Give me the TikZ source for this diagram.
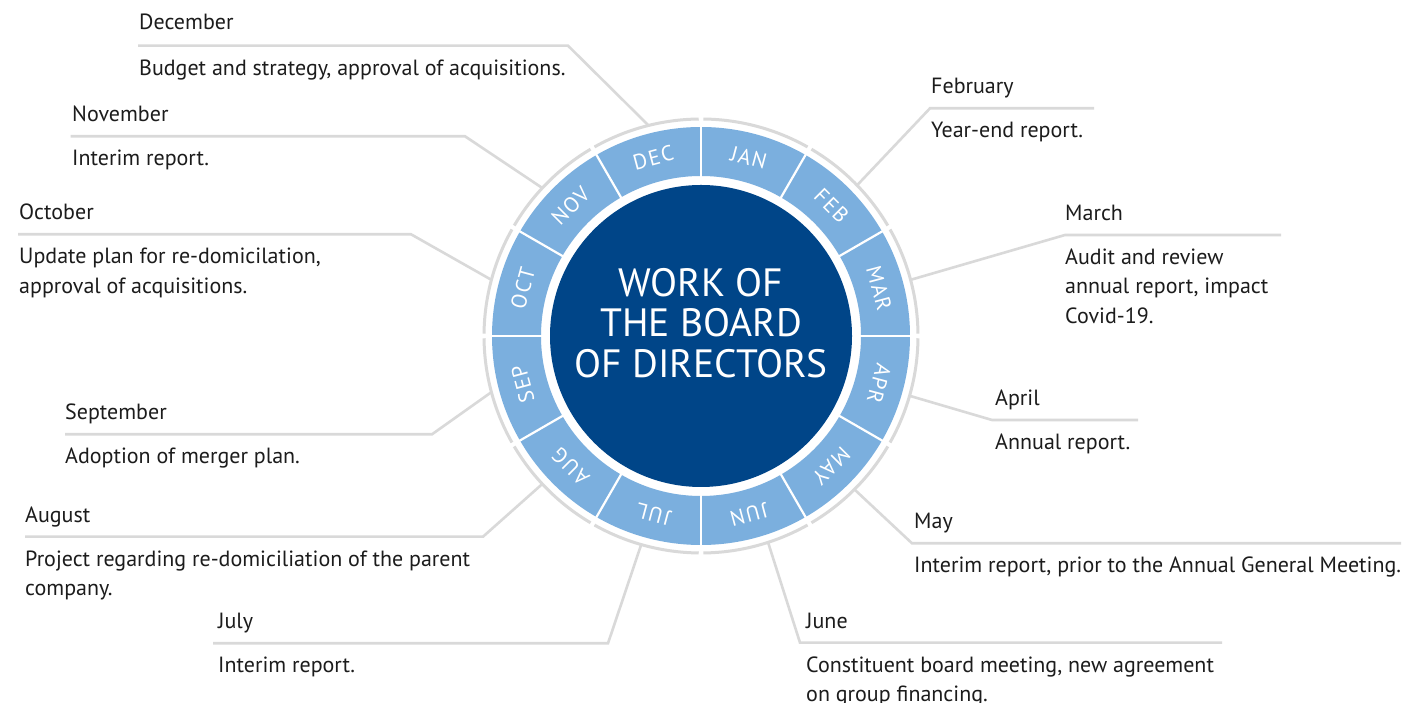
\documentclass[tikz,border=0pt]{standalone}
\usepackage{fontspec}
\setmainfont{PT Sans}
\newfontfamily\ringfont[LetterSpace=7]{PT Sans}
\definecolor{darkblue}{RGB}{0,69,136}
\definecolor{lightblue}{RGB}{123,175,222}
\definecolor{lightgray}{RGB}{217,217,217}
\definecolor{txt}{RGB}{28,28,28}
\tikzset{
  conn/.style={draw=lightgray, line width=2.6, line join=miter},
  ringgray/.style={draw=lightgray, line width=3},
  ttl/.style={anchor=base west, inner sep=0, text=txt, font=\fontsize{22}{29.5}\selectfont},
  dsc/.style={anchor=base west, inner sep=0, text=txt, align=left, font=\fontsize{22}{29.5}\selectfont},
  monthlbl/.style={inner sep=0, text=white, font=\ringfont\fontsize{21.5}{25}\selectfont},
  core/.style={circle, fill=darkblue, inner sep=0, minimum size=302},
  bigtitle/.style={inner sep=0, text=white, align=center, font=\fontsize{39.5}{40.5}\selectfont}
}
\begin{document}
\begin{tikzpicture}[x=1pt,y=1pt]
\useasboundingbox[fill=white] (0,0) rectangle (1405,703);
\coordinate (c) at (701,367);
% ring
\fill[lightblue, even odd rule] (c) circle[radius=209] (c) circle[radius=160];
\foreach \a in {0,30,...,330} {
  \draw[white, line width=2.2] (c) ++(\a:157) -- ++(\a:55);
  \draw[ringgray] (c) ++({\a+0.6}:217) arc[start angle={\a+0.6}, end angle={\a+29.4}, radius=217];
}
\node[core] (core) at (c) {};
\node[bigtitle] (title) at (701,380) {WORK OF\\THE BOARD\\OF DIRECTORS};
% month labels
\foreach \m [count=\i] in {JAN,FEB,MAR,APR,MAY,JUN,JUL,AUG,SEP,OCT,NOV,DEC} {
  \pgfmathsetmacro\ang{105-30*\i}
  \path (c) ++(\ang:184.5) node[monthlbl, rotate=\ang-90] (m\m) {\m};
}
% December
\path (c) ++(104:217) coordinate (rDEC);
\coordinate (lDEC) at (138,657.3); \coordinate (eDEC) at (568,657.3);
\draw[conn] (rDEC) -- (eDEC) -- (lDEC);
\node[ttl] (tDEC) at (139,673) {December};
\node[dsc] (dDEC) at (139,627.8) {Budget and strategy, approval of acquisitions.};
% November
\path (c) ++(137:217) coordinate (rNOV);
\coordinate (lNOV) at (70.5,566.7); \coordinate (eNOV) at (465,566.7);
\draw[conn] (rNOV) -- (eNOV) -- (lNOV);
\node[ttl] (tNOV) at (72,581.2) {November};
\node[dsc] (dNOV) at (72,537.2) {Interim report.};
% October
\path (c) ++(165:217) coordinate (rOCT);
\coordinate (lOCT) at (18,468.7); \coordinate (eOCT) at (411,468.7);
\draw[conn] (rOCT) -- (eOCT) -- (lOCT);
\node[ttl] (tOCT) at (19,483.2) {October};
\node[dsc] (dOCT) at (19,409.7) {Update plan for re-domicilation,\\approval of acquisitions.};
% September
\path (c) ++(195:217) coordinate (rSEP);
\coordinate (lSEP) at (65,268.7); \coordinate (eSEP) at (432,268.7);
\draw[conn] (rSEP) -- (eSEP) -- (lSEP);
\node[ttl] (tSEP) at (65,283.2) {September};
\node[dsc] (dSEP) at (65,239.2) {Adoption of merger plan.};
% August
\path (c) ++(223:217) coordinate (rAUG);
\coordinate (lAUG) at (25,166.3); \coordinate (eAUG) at (483,166.3);
\draw[conn] (rAUG) -- (eAUG) -- (lAUG);
\node[ttl] (tAUG) at (25,180.8) {August};
\node[dsc] (dAUG) at (25,107.3) {Project regarding re-domiciliation of the parent\\company.};
% July
\path (c) ++(254:217) coordinate (rJUL);
\coordinate (lJUL) at (213,59.7); \coordinate (eJUL) at (608,59.7);
\draw[conn] (rJUL) -- (eJUL) -- (lJUL);
\node[ttl] (tJUL) at (218,74.2) {July};
\node[dsc] (dJUL) at (218,30.2) {Interim report.};
% June
\path (c) ++(288:217) coordinate (rJUN);
\coordinate (lJUN) at (800,60.3); \coordinate (eJUN) at (1222,60.3);
\draw[conn] (rJUN) -- (lJUN) -- (eJUN);
\node[ttl] (tJUN) at (806,74.8) {June};
\node[dsc] (dJUN) at (806,1.3) {Constituent board meeting, new agreement\\on group financing.};
% May
\path (c) ++(315:217) coordinate (rMAY);
\coordinate (lMAY) at (912,159.7); \coordinate (eMAY) at (1401,159.7);
\draw[conn] (rMAY) -- (lMAY) -- (eMAY);
\node[ttl] (tMAY) at (914,174.2) {May};
\node[dsc] (dMAY) at (914,130.2) {Interim report, prior to the Annual General Meeting.};
% April
\path (c) ++(344:217) coordinate (rAPR);
\coordinate (lAPR) at (992,283); \coordinate (eAPR) at (1138,283);
\draw[conn] (rAPR) -- (lAPR) -- (eAPR);
\node[ttl] (tAPR) at (995,297.5) {April};
\node[dsc] (dAPR) at (995,253.5) {Annual report.};
% March
\path (c) ++(15:217) coordinate (rMAR);
\coordinate (lMAR) at (1065,468); \coordinate (eMAR) at (1281,468);
\draw[conn] (rMAR) -- (lMAR) -- (eMAR);
\node[ttl] (tMAR) at (1065,482.5) {March};
\node[dsc] (dMAR) at (1065,379.5) {Audit and review\\annual report, impact\\Covid-19.};
% February
\path (c) ++(44:217) coordinate (rFEB);
\coordinate (lFEB) at (930,594.7); \coordinate (eFEB) at (1094,594.7);
\draw[conn] (rFEB) -- (lFEB) -- (eFEB);
\node[ttl] (tFEB) at (931,609.2) {February};
\node[dsc] (dFEB) at (931,565.2) {Year-end report.};
\end{tikzpicture}
\end{document}
